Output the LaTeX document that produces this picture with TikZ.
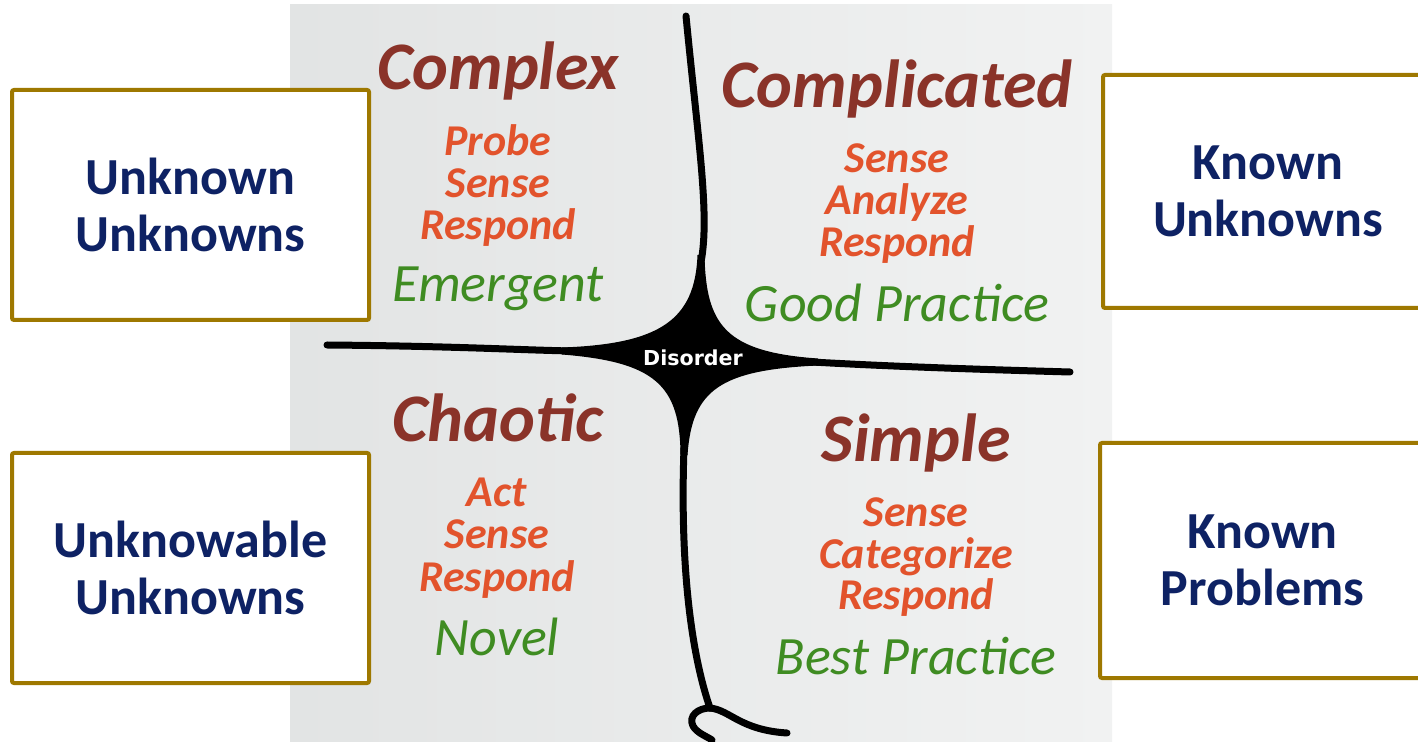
\documentclass[tikz,border=0pt]{standalone}
\usepackage{fontspec}
\setmainfont{Carlito}
\newfontfamily\djv{DejaVu Sans}
\definecolor{headred}{HTML}{8A3329}
\definecolor{verborange}{HTML}{E2532C}
\definecolor{practgreen}{HTML}{3F8C22}
\definecolor{boxnavy}{HTML}{0E2264}
\definecolor{boxgold}{HTML}{9E7800}
\definecolor{panelL}{HTML}{E2E4E4}
\definecolor{panelR}{HTML}{F1F2F2}
\begin{document}
\begin{tikzpicture}[x=0.5pt,y=-0.5pt,
  box/.style={draw=boxgold,line width=2pt,fill=white,rounded corners=1pt,
    text=boxnavy,font=\fontsize{26}{28.5}\selectfont\bfseries,align=center},
  head/.style={anchor=base,text=headred,font=\fontsize{34}{36}\selectfont\bfseries\itshape},
  verb/.style={anchor=base,text=verborange,font=\fontsize{22}{24}\selectfont\bfseries\itshape},
  pract/.style={anchor=base,text=practgreen,font=\fontsize{27}{30}\selectfont\itshape},
  ln/.style={line width=3.5pt,line cap=round,line join=round}]
\useasboundingbox (0,0) rectangle (1418,742);
\clip (0,0) rectangle (1418,742);
\fill[white] (0,0) rectangle (1418,742);
\shade[left color=panelL,right color=panelR] (290,5) rectangle (1112,742);

% boxes
\node[box,minimum width=178.5pt,minimum height=115pt] (uu) at (190.5,205) {Unknown\\Unknowns};
\node[box,minimum width=161pt,minimum height=116.5pt] (ku) at (1264,191.5) {\hspace*{4pt}Known\\\hspace*{4pt}Unknowns};
\node[box,minimum width=178.5pt,minimum height=115pt] (nu) at (190.5,568) {Unknowable\\Unknowns};
\node[box,minimum width=162.5pt,minimum height=117.5pt] (kp) at (1262.5,560.5) {Known\\Problems};

% framework lines
\draw[ln] (686,16) .. controls (698,140) and (710,215) .. (701,262);
\draw[ln] (327,345) .. controls (450,346) and (520,350) .. (572,351);
\draw[ln] (812,362) .. controls (900,367) and (1000,370) .. (1070,372);
\draw[ln] (684,448) .. controls (680,560) and (690,650) .. (710,708);
\draw[ln] (710,708) .. controls (698,708) and (688,716) .. (693,726) .. controls (697,733) and (706,736) .. (712,740);
\draw[ln] (710,708) .. controls (730,710) and (740,730) .. (787,733);
\fill (697.5,255) .. controls (695,320) and (660,344) .. (562,347.5) -- (562,354.5)
  .. controls (655,362) and (680,385) .. (680.5,455) -- (687.5,455)
  .. controls (692,390) and (720,370) .. (818,365.5) -- (818,358.5)
  .. controls (725,352) and (706,325) .. (704.5,255) -- cycle;
\node[text=white,font=\djv\bfseries\fontsize{10.3}{12}\selectfont] (dis) at (693,358) {Disorder};

% Complex
\node[head] (h1) at (498,90) {Complex};
\node[verb] (v11) at (498,156) {Probe};
\node[verb] (v12) at (498,198) {Sense};
\node[verb] (v13) at (498,240) {Respond};
\node[pract] (p1) at (498,302) {Emergent};

% Complicated
\node[head] (h2) at (897,108) {Complicated};
\node[verb] (v21) at (897,173) {Sense};
\node[verb] (v22) at (897,215) {Analyze};
\node[verb] (v23) at (897,257) {Respond};
\node[pract] (p2) at (897,322) {Good Practice};

% Chaotic
\node[head] (h3) at (498,442) {Chaotic};
\node[verb] (v31) at (497,507) {Act};
\node[verb] (v32) at (497,549) {Sense};
\node[verb] (v33) at (497,591) {Respond};
\node[pract] (p3) at (497,655) {Novel};

% Simple
\node[head] (h4) at (916,462) {Simple};
\node[verb] (v41) at (916,526) {Sense};
\node[verb] (v42) at (916,568) {Categorize};
\node[verb] (v43) at (916,610) {Respond};
\node[pract] (p4) at (916,674) {Best Practice};
\end{tikzpicture}
\end{document}
